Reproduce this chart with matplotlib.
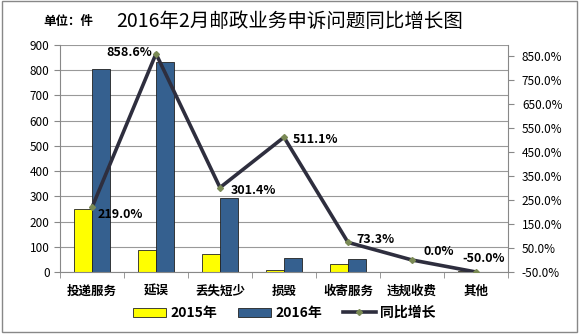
import matplotlib

matplotlib.use("Agg")
import matplotlib.pyplot as plt  # noqa: E402
import numpy as np  # noqa: E402
from matplotlib.patches import Rectangle  # noqa: E402

plt.rcParams["font.family"] = ["Noto Sans CJK SC", "DejaVu Sans"]

categories = ["投递服务", "延误", "丢失短少", "损毁", "收寄服务", "违规收费", "其他"]
y2015 = [250, 87, 73, 9, 30, 1, 2]
y2016 = [803, 833, 293, 55, 52, 1, 1]
growth = [219.0, 858.6, 301.4, 511.1, 73.3, 0.0, -50.0]
label_offsets = [(4, -5), (-36, 1), (8, -2), (6, -2), (6, 2), (8, 6), (-10, 10)]

fig = plt.figure(figsize=(5.8, 3.36), dpi=100)
ax = fig.add_axes([60 / 580, 64 / 336, 448 / 580, 227 / 336])
x = np.arange(len(categories))
w = 0.28
ax.bar(x - w / 2, y2015, w, color="#FFFF00", edgecolor="#222222", lw=0.6, label="2015年", zorder=2)
ax.bar(x + w / 2, y2016, w, color="#35608F", edgecolor="#222222", lw=0.6, label="2016年", zorder=2)
ax.set_xlim(-0.5, len(categories) - 0.5)
ax.set_ylim(0, 900)
ax.set_yticks(range(0, 901, 100))
ax.yaxis.grid(True, color="#999999", lw=0.8)
ax.set_axisbelow(True)
ax.set_xticks(x)
ax.set_xticklabels(categories, fontsize=9, fontweight="bold")
ax.set_xticks(np.arange(-0.5, len(categories)), minor=True)
ax.tick_params(axis="x", which="major", length=0, pad=9)
ax.tick_params(axis="x", which="minor", length=4, color="#888888")
ax.tick_params(axis="y", labelsize=8.5, color="#888888", length=4)
for s in ["top", "right"]:
    ax.spines[s].set_visible(False)
for s in ["left", "bottom"]:
    ax.spines[s].set_color("#888888")

ax2 = ax.twinx()
ax2.plot(x, growth, color="#2E2E3E", lw=2.6, marker="D", ms=3,
         mfc="#7A8A55", mec="#7A8A55", label="同比增长", zorder=3)
ax2.set_ylim(-50, 895)
ax2.set_yticks(range(-50, 851, 100))
ax2.set_yticklabels([f"{v:.1f}%" for v in range(-50, 851, 100)])
ax2.tick_params(axis="y", labelsize=8.5, color="#888888", length=4, pad=6)
for s in ["top", "left", "bottom"]:
    ax2.spines[s].set_visible(False)
ax2.spines["right"].set_color("#888888")
for xi, g, off in zip(x, growth, label_offsets):
    ax2.annotate(f"{g:.1f}%", (xi, g), textcoords="offset points", xytext=off,
                 fontsize=9, fontweight="bold", ha="left", va="center")

fig.text(0.075, 0.935, "单位：件", fontsize=9, fontweight="bold", va="center")
fig.text(0.5, 0.935, "2016年2月邮政业务申诉问题同比增长图", fontsize=14, ha="center", va="center")

h1, l1 = ax.get_legend_handles_labels()
h2, l2 = ax2.get_legend_handles_labels()
fig.legend(h1 + h2, l1 + l2, loc="center", bbox_to_anchor=(0.49, 0.068), ncol=3,
           frameon=False, fontsize=9, prop={"weight": "bold"}, handlelength=2.4,
           handleheight=0.6, columnspacing=1.5, handletextpad=0.3)

fig.patches.append(Rectangle((0.004, 0.012), 0.99, 0.984, transform=fig.transFigure,
                             fill=False, edgecolor="#888888", lw=1))
fig.savefig("out.png", dpi=100)
